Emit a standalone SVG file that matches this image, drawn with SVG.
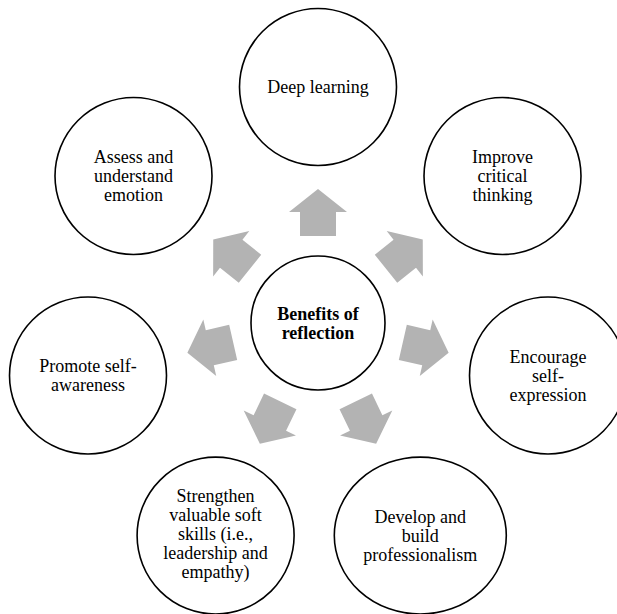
<svg xmlns="http://www.w3.org/2000/svg" xmlns:xlink="http://www.w3.org/1999/xlink" width="617" height="614" viewBox="0 0 617 614">
  <style>
    .node { fill: #ffffff; stroke: #000000; stroke-width: 1.6; }
    .label { font-family: "Liberation Serif", "Times New Roman", serif; font-size: 18px; fill: #000000; text-anchor: middle; }
    .hub { font-weight: bold; }
    .arrow { fill: #b3b3b3; }
  </style>
  <defs>
    <!-- block arrow pointing up from the hub; rotated copies fan out around (318,323) -->
    <path id="arr" class="arrow" d="M300,236 L300,212 L289,212 L318,189 L347,212 L336,212 L336,236 Z"/>
  </defs>
  <rect width="617" height="614" fill="#ffffff"/>

  <g id="connectors">
    <use xlink:href="#arr" href="#arr"/>
    <use xlink:href="#arr" href="#arr" transform="rotate(51.4286 318 323)"/>
    <use xlink:href="#arr" href="#arr" transform="rotate(102.8571 318 323)"/>
    <use xlink:href="#arr" href="#arr" transform="rotate(154.2857 318 323)"/>
    <use xlink:href="#arr" href="#arr" transform="rotate(205.7143 318 323)"/>
    <use xlink:href="#arr" href="#arr" transform="rotate(257.1429 318 323)"/>
    <use xlink:href="#arr" href="#arr" transform="rotate(308.5714 318 323)"/>
  </g>

  <g id="hub">
    <circle class="node" cx="318" cy="323" r="67"/>
    <text class="label hub" x="318" y="319.5">Benefits of</text>
    <text class="label hub" x="318" y="338.5">reflection</text>
  </g>

  <g id="deep-learning">
    <circle class="node" cx="318" cy="87" r="78.5"/>
    <text class="label" x="318" y="93">Deep learning</text>
  </g>

  <g id="critical-thinking">
    <circle class="node" cx="502.5" cy="176" r="78.5"/>
    <text class="label" x="502.5" y="163">Improve</text>
    <text class="label" x="502.5" y="182">critical</text>
    <text class="label" x="502.5" y="201">thinking</text>
  </g>

  <g id="self-expression">
    <circle class="node" cx="548" cy="375.5" r="78.5"/>
    <text class="label" x="548" y="362.5">Encourage</text>
    <text class="label" x="548" y="381.5">self-</text>
    <text class="label" x="548" y="400.5">expression</text>
  </g>

  <g id="professionalism">
    <ellipse class="node" cx="420.3" cy="535.6" rx="86" ry="78.5"/>
    <text class="label" x="420.3" y="522.5">Develop and</text>
    <text class="label" x="420.3" y="541.5">build</text>
    <text class="label" x="420.3" y="560.5">professionalism</text>
  </g>

  <g id="soft-skills">
    <circle class="node" cx="215.6" cy="535.6" r="78.5"/>
    <text class="label" x="215.6" y="502">Strengthen</text>
    <text class="label" x="215.6" y="521">valuable soft</text>
    <text class="label" x="215.6" y="540">skills (i.e.,</text>
    <text class="label" x="215.6" y="559">leadership and</text>
    <text class="label" x="215.6" y="578">empathy)</text>
  </g>

  <g id="self-awareness">
    <circle class="node" cx="88" cy="375.5" r="78.5"/>
    <text class="label" x="88" y="372">Promote self-</text>
    <text class="label" x="88" y="391">awareness</text>
  </g>

  <g id="emotion">
    <circle class="node" cx="133.5" cy="176" r="78.5"/>
    <text class="label" x="133.5" y="163">Assess and</text>
    <text class="label" x="133.5" y="182">understand</text>
    <text class="label" x="133.5" y="201">emotion</text>
  </g>
</svg>
